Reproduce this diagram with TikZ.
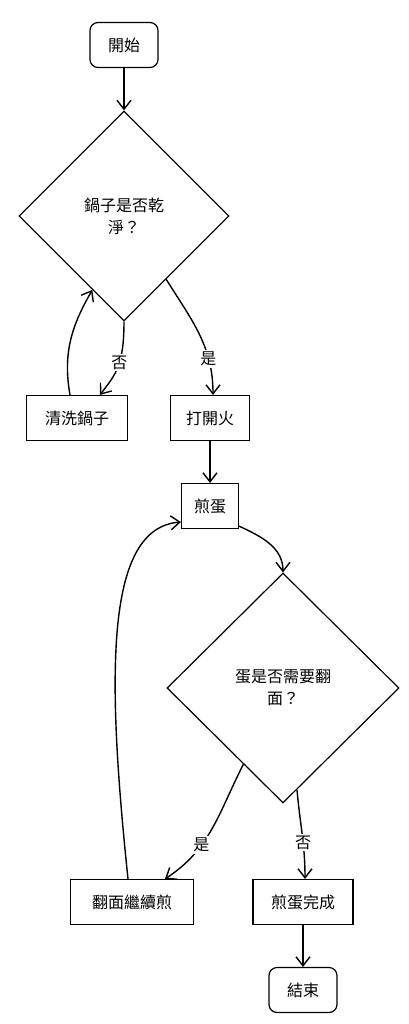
\documentclass[tikz,border=0pt]{standalone}
\usepackage{fontspec}
\setmainfont{Noto Sans CJK TC}
\usetikzlibrary{shapes.geometric, arrows.meta, calc}
\tikzset{
  box/.style={draw, line width=1.2pt, minimum height=45pt, inner sep=0pt},
  term/.style={box, rounded corners=8pt},
  cond/.style={draw, diamond, line width=1.2pt, inner sep=0pt, align=center},
  lbl/.style={fill=white, inner sep=2pt},
  flow/.style={->, line width=1.4pt},
  >={Straight Barb[length=9pt, width=14pt]}
}

\begin{document}
\begin{tikzpicture}[x=1pt, y=1pt, font=\fontsize{16}{22}\selectfont]
            \useasboundingbox (0, 0) rectangle (409, -1024);

            \node [term, minimum width=68pt] (start) at (124, -45) {開始};
            \node [cond, minimum width=210pt, minimum height=210pt] (pan) at (124, -216) {鍋子是否乾\\淨？};
            \node [box, minimum width=101pt] (wash) at (77, -418) {清洗鍋子};
            \node [box, minimum width=79pt] (fire) at (210, -418) {打開火};
            \node [box, minimum width=57pt] (egg) at (210, -506) {煎蛋};
            \node [cond, minimum width=232pt, minimum height=230pt] (turn) at (283, -688) {蛋是否需要翻\\面？};
            \node [box, minimum width=123pt] (flip) at (132, -902) {翻面繼續煎};
            \node [box, minimum width=100pt] (done) at (303, -902) {煎蛋完成};
            \node [term, minimum width=68pt] (stop) at (303, -990) {結束};

            \draw [flow] (start) -- (pan);
            \draw [flow] (pan.south) .. controls +(0, -45) and +(15, 20) .. node [lbl, pos=0.42] {否} ([xshift=23pt]wash.north);
            \draw [flow] ([xshift=-7pt]wash.north) to [out=100, in=-120] ($(pan.west)!0.7!(pan.south)$);
            \draw [flow] ($(pan.south)!0.4!(pan.east)$) to [out=-58, in=90] node [lbl, pos=0.72] {是} ([xshift=3pt]fire.north);
            \draw [flow] (fire) -- (egg);
            \draw [flow] ([yshift=3pt]egg.south east) to [out=-25, in=90] (turn.north);
            \draw [flow] ([xshift=-4pt]flip.north) .. controls +(-22, 210) and +(-75, -6) .. ([yshift=-16pt]egg.west);
            \draw [flow] ($(turn.south)!0.34!(turn.west)$) to [out=-117, in=33] node [lbl, pos=0.65] {是} ([xshift=33pt]flip.north);
            \draw [flow] ($(turn.south)!0.12!(turn.east)$) to [out=-85, in=90] node [lbl, pos=0.6] {否} ([xshift=2pt]done.north);
            \draw [flow] (done) -- (stop);
        \end{tikzpicture}
\end{document}
